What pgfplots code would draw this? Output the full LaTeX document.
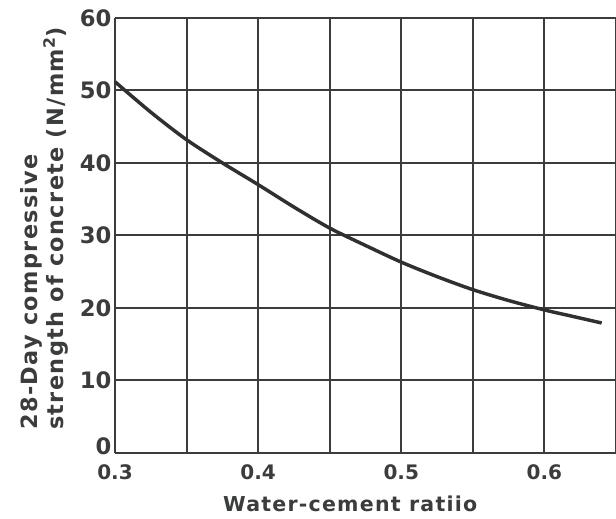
\documentclass[border=0pt]{standalone}
\usepackage{pgfplots}
\pgfplotsset{compat=1.18}
\usepackage{fontspec}
\setmainfont{DejaVu Sans}
\newfontfamily\lettering[LetterSpace=6]{DejaVu Sans Bold}
\newfontfamily\tickfont{DejaVu Sans Bold}
\definecolor{ink}{HTML}{3A3D3C}
\definecolor{curve}{HTML}{2E3130}
\begin{document}
\begin{tikzpicture}
\begin{axis}[
  scale only axis,
  width=375.75pt, height=326pt,
  xmin=0.3, xmax=0.65, ymin=0, ymax=60,
  axis lines=left,
  axis line style={ink, line width=1.7pt, -},
  xtick={0.3,0.4,0.5,0.6},
  xticklabels={0.3,0.4,0.5,0.6},
  minor xtick={0.35,0.45,0.55,0.65},
  ytick={10,20,30,40,50,60},
  extra y ticks={0},
  extra y tick style={yticklabel style={yshift=4.5pt}},
  grid=both,
  major grid style={ink, line width=1.5pt},
  minor grid style={ink, line width=1.5pt},
  tick style={draw=none},
  /pgf/number format/assume math mode=true,
  xticklabel style={font=\tickfont\fontsize{15}{15}\selectfont, text=ink, yshift=-3pt},
  yticklabel style={font=\tickfont\fontsize{17}{17}\selectfont, text=ink, xshift=3pt},
  clip=false,
]
\addplot[curve, line width=2.6pt, smooth] coordinates {
(0.30,51.2) (0.325,47.0) (0.35,43.2) (0.375,40.0) (0.40,37.0) (0.425,33.9)
(0.45,31.0) (0.475,28.6) (0.50,26.3) (0.525,24.3) (0.55,22.5) (0.575,21.0)
(0.60,19.7) (0.62,18.8) (0.64,17.9)
};
\node[rotate=90, anchor=south west, align=left, inner sep=0pt, text=ink,
  font=\lettering\fontsize{16.8}{18.5}\selectfont]
  at ([xshift=-35pt, yshift=17pt]rel axis cs:0,0)
  {28-Day compressive\\strength of concrete (N/mm\textsuperscript{2})};
\node[anchor=base, text=ink, font=\lettering\fontsize{15.4}{15}\selectfont]
  at ([xshift=-11.5pt, yshift=-44pt]rel axis cs:0.5,0) {Water-cement ratiio};
\end{axis}
\pgfresetboundingbox
\useasboundingbox ([shift={(-86.25pt,-49.5pt)}]current axis.south west) rectangle ([shift={(0pt,13.5pt)}]current axis.north east);
\end{tikzpicture}
\end{document}
